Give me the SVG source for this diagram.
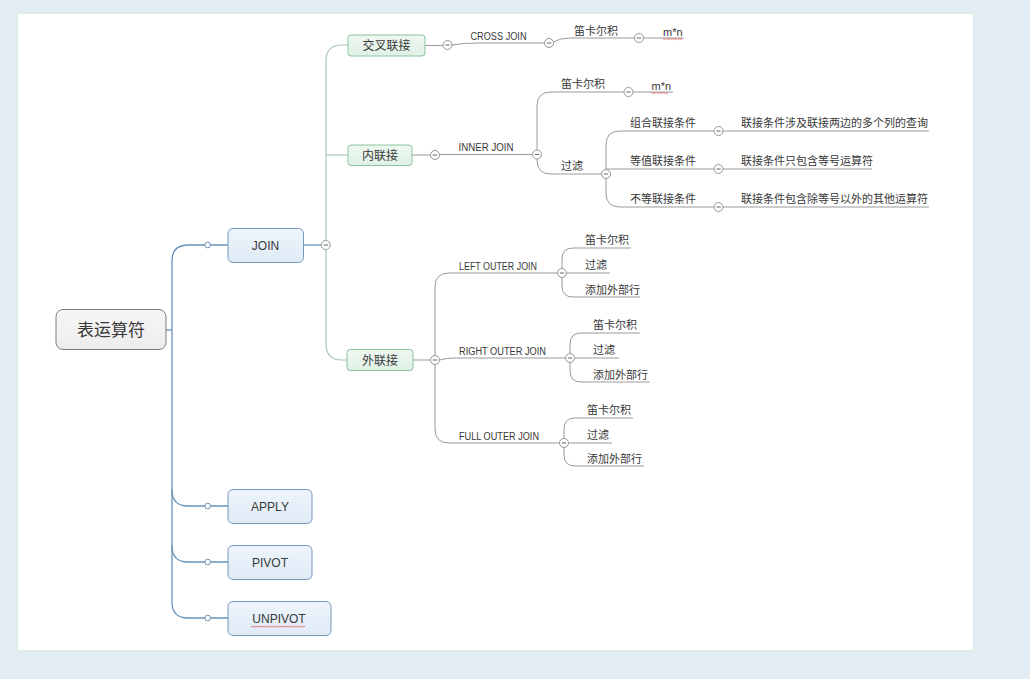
<svg xmlns="http://www.w3.org/2000/svg" width="1030" height="679" viewBox="0 0 1030 679">
<defs>
<linearGradient id="gRoot" x1="0" y1="0" x2="0" y2="1"><stop offset="0" stop-color="#f7f7f7"/><stop offset="1" stop-color="#ececec"/></linearGradient>
<linearGradient id="gBlue" x1="0" y1="0" x2="0" y2="1"><stop offset="0" stop-color="#edf4fb"/><stop offset="1" stop-color="#e0ebf6"/></linearGradient>
<linearGradient id="gGreen" x1="0" y1="0" x2="0" y2="1"><stop offset="0" stop-color="#eef8f1"/><stop offset="1" stop-color="#e0f1e6"/></linearGradient>
</defs>
<style>
text{font-family:"Liberation Sans","Noto Sans CJK SC",sans-serif;fill:#383838}
.t10{font-size:10px}
.t11{font-size:11px}
.t12{font-size:12px;text-anchor:middle}
.root{font-size:17px;text-anchor:middle}
.blue{fill:url(#gBlue);stroke:#7597bb;stroke-width:1}
.green{fill:url(#gGreen);stroke:#8cc2a0;stroke-width:1}
.trunk{fill:none;stroke:#6a93bb;stroke-width:1.3}
.gline{fill:none;stroke:#a9c9b3;stroke-width:1.2}
.line{fill:none;stroke:#9a9a9a;stroke-width:1}
.dot{fill:#fff;stroke:#6a93bb;stroke-width:1}
.col{fill:#fff;stroke:#8e9a93;stroke-width:1}
.minus{stroke:#666;stroke-width:1}
.wave{fill:none;stroke:#e05050;stroke-width:0.8}
</style>
<rect x="0" y="0" width="1030" height="679" fill="#e4ecf3"/>
<rect x="17.5" y="13.5" width="956" height="637" fill="#ffffff" stroke="#dce9e6" stroke-width="1"/>

<g id="connectors">
<path class="trunk" d="M166,330 H172"/>
<path class="trunk" d="M172,602 V261 Q172,245 188,245 H205"/>
<path class="trunk" d="M172,490 Q172,506 188,506 H205"/>
<path class="trunk" d="M172,546 Q172,562 188,562 H205"/>
<path class="trunk" d="M172,602 Q172,618 188,618 H205"/>
<path class="trunk" d="M210.5,245 H228 M210.5,506 H228 M210.5,562 H228 M210.5,618 H228"/>
<path class="trunk" d="M303,245 H321"/>
<path class="gline" d="M326,240.5 V61 Q326,45 342,45 H348"/>
<path class="gline" d="M326,155 H348"/>
<path class="gline" d="M326,249.5 V344 Q326,360 342,360 H347"/>
<path class="line" d="M425,45.5 H443"/>
<path class="line" d="M452,45 Q464,43 478,43 H544.5"/>
<path class="line" d="M553.5,42 Q560,38 570,38 H634.5"/>
<path class="line" d="M643.5,38 H684"/>
<path class="line" d="M412,155 H430.5"/>
<path class="line" d="M439.5,154.5 H532.5"/>
<path class="line" d="M537,150 V106 Q537,92 551,92 H624"/>
<path class="line" d="M537,159 V160 Q537,174 551,174 H601.5"/>
<path class="line" d="M633,92 H673"/>
<path class="line" d="M606,169.5 V145 Q606,131 620,131 H714"/>
<path class="line" d="M606,169 H714"/>
<path class="line" d="M606,178.5 V193 Q606,207 620,207 H714"/>
<path class="line" d="M723,131 H929 M723,169 H872 M723,207 H929"/>
<path class="line" d="M413,360 H430.5"/>
<path class="line" d="M435,355.5 V287 Q435,273 449,273 H557.5"/>
<path class="line" d="M439.5,360 Q446,358 456,358 H565.5"/>
<path class="line" d="M435,364.5 V429 Q435,443 449,443 H559.5"/>
<path class="line" d="M562,268.5 V259 Q562,248 573,248 H631"/>
<path class="line" d="M566.5,273 H610"/>
<path class="line" d="M562,277.5 V286 Q562,297 573,297 H640"/>
<path class="line" d="M570,353.5 V344 Q570,333 581,333 H640"/>
<path class="line" d="M574.5,358 H619"/>
<path class="line" d="M570,362.5 V371 Q570,382 581,382 H650"/>
<path class="line" d="M564,438.5 V429 Q564,418 575,418 H633"/>
<path class="line" d="M568.5,443 H612"/>
<path class="line" d="M564,447.5 V455 Q564,466 575,466 H644"/>
<circle class="dot" cx="207.7" cy="245" r="2.8"/>
<circle class="dot" cx="207.7" cy="506" r="2.8"/>
<circle class="dot" cx="207.7" cy="562" r="2.8"/>
<circle class="dot" cx="207.7" cy="618" r="2.8"/>
<g>
<circle class="col" cx="325.7" cy="245" r="4.5"/><path class="minus" d="M323.5,245 H328"/>
<circle class="col" cx="447.5" cy="45" r="4.5"/><path class="minus" d="M445.3,45 H449.7"/>
<circle class="col" cx="549" cy="43" r="4.5"/><path class="minus" d="M546.8,43 H551.2"/>
<circle class="col" cx="639" cy="38" r="4.5"/><path class="minus" d="M636.8,38 H641.2"/>
<circle class="col" cx="435" cy="155" r="4.5"/><path class="minus" d="M432.8,155 H437.2"/>
<circle class="col" cx="537" cy="154.5" r="4.5"/><path class="minus" d="M534.8,154.5 H539.2"/>
<circle class="col" cx="628.5" cy="92" r="4.5"/><path class="minus" d="M626.3,92 H630.7"/>
<circle class="col" cx="606" cy="174" r="4.5"/><path class="minus" d="M603.8,174 H608.2"/>
<circle class="col" cx="718.5" cy="131" r="4.5"/><path class="minus" d="M716.3,131 H720.7"/>
<circle class="col" cx="718.5" cy="169" r="4.5"/><path class="minus" d="M716.3,169 H720.7"/>
<circle class="col" cx="718.5" cy="207" r="4.5"/><path class="minus" d="M716.3,207 H720.7"/>
<circle class="col" cx="435" cy="360" r="4.5"/><path class="minus" d="M432.8,360 H437.2"/>
<circle class="col" cx="562" cy="273" r="4.5"/><path class="minus" d="M559.8,273 H564.2"/>
<circle class="col" cx="570" cy="358" r="4.5"/><path class="minus" d="M567.8,358 H572.2"/>
<circle class="col" cx="564" cy="443" r="4.5"/><path class="minus" d="M561.8,443 H566.2"/>
</g>
</g>

<g id="root">
<rect x="56" y="309.5" width="110" height="40" rx="7" fill="url(#gRoot)" stroke="#7c7c7c" stroke-width="1"/>
<text class="root" x="111" y="336">表运算符</text>
</g>
<g id="join">
<rect class="blue" x="228" y="228.5" width="75.5" height="34" rx="5"/>
<text class="t12" x="265.5" y="249.5">JOIN</text>
</g>
<g id="apply">
<rect class="blue" x="228" y="489.5" width="84" height="34" rx="5"/>
<text class="t12" x="270" y="510.5">APPLY</text>
</g>
<g id="pivot">
<rect class="blue" x="228" y="545.5" width="84" height="34" rx="5"/>
<text class="t12" x="270" y="566.5">PIVOT</text>
</g>
<g id="unpivot">
<rect class="blue" x="228" y="601.5" width="103" height="34" rx="5"/>
<text class="t12" x="279" y="622.5">UNPIVOT</text>
<path class="wave" d="M251,626 l1.5,1.2 l1.5,-1.2 l1.5,1.2 l1.5,-1.2 l1.5,1.2 l1.5,-1.2 l1.5,1.2 l1.5,-1.2 l1.5,1.2 l1.5,-1.2 l1.5,1.2 l1.5,-1.2 l1.5,1.2 l1.5,-1.2 l1.5,1.2 l1.5,-1.2 l1.5,1.2 l1.5,-1.2 l1.5,1.2 l1.5,-1.2 l1.5,1.2 l1.5,-1.2 l1.5,1.2 l1.5,-1.2 l1.5,1.2 l1.5,-1.2 l1.5,1.2 l1.5,-1.2 l1.5,1.2 l1.5,-1.2 l1.5,1.2 l1.5,-1.2 l1.5,1.2 l1.5,-1.2 l1.5,1.2 l1.5,-1.2"/>
</g>

<g id="cross">
<rect class="green" x="348" y="35" width="77" height="21" rx="3"/>
<text class="t12" x="386.5" y="50">交叉联接</text>
</g>
<g id="inner">
<rect class="green" x="348" y="145" width="64" height="20.5" rx="3"/>
<text class="t12" x="380" y="159.5">内联接</text>
</g>
<g id="outer">
<rect class="green" x="347" y="349.5" width="66" height="21" rx="3"/>
<text class="t12" x="380" y="364.5">外联接</text>
</g>

<g id="cross-join"><text class="t10" x="470.5" y="40" textLength="56" lengthAdjust="spacingAndGlyphs">CROSS JOIN</text></g>
<g id="cross-cart"><text class="t11" x="574" y="35">笛卡尔积</text></g>
<g id="cross-mn"><text class="t11" x="663" y="36">m*n</text>
<path class="wave" d="M663,38.5 l1.2,1 l1.2,-1 l1.2,1 l1.2,-1 l1.2,1 l1.2,-1 l1.2,1 l1.2,-1 l1.2,1 l1.2,-1 l1.2,1 l1.2,-1 l1.2,1 l1.2,-1 l1.2,1 l1.2,-1"/></g>

<g id="inner-join"><text class="t10" x="458.5" y="151" textLength="55" lengthAdjust="spacingAndGlyphs">INNER JOIN</text></g>
<g id="inner-cart"><text class="t11" x="561" y="88">笛卡尔积</text></g>
<g id="inner-mn"><text class="t11" x="651.5" y="89.5">m*n</text>
<path class="wave" d="M651.5,92.5 l1.2,1 l1.2,-1 l1.2,1 l1.2,-1 l1.2,1 l1.2,-1 l1.2,1 l1.2,-1 l1.2,1 l1.2,-1 l1.2,1 l1.2,-1 l1.2,1 l1.2,-1"/></g>
<g id="inner-filter"><text class="t11" x="561" y="170">过滤</text></g>
<g id="cond-combo"><text class="t11" x="630" y="127">组合联接条件</text></g>
<g id="cond-eq"><text class="t11" x="630" y="165">等值联接条件</text></g>
<g id="cond-neq"><text class="t11" x="630" y="203">不等联接条件</text></g>
<g id="desc-combo"><text class="t11" x="741" y="127">联接条件涉及联接两边的多个列的查询</text></g>
<g id="desc-eq"><text class="t11" x="741" y="165">联接条件只包含等号运算符</text></g>
<g id="desc-neq"><text class="t11" x="741" y="203">联接条件包含除等号以外的其他运算符</text></g>

<g id="left-join"><text class="t10" x="459" y="269.5" textLength="78" lengthAdjust="spacingAndGlyphs">LEFT OUTER JOIN</text></g>
<g id="left-cart"><text class="t11" x="585" y="244">笛卡尔积</text></g>
<g id="left-filter"><text class="t11" x="585" y="269">过滤</text></g>
<g id="left-add"><text class="t11" x="585" y="293.5">添加外部行</text></g>

<g id="right-join"><text class="t10" x="459" y="354.5" textLength="87" lengthAdjust="spacingAndGlyphs">RIGHT OUTER JOIN</text></g>
<g id="right-cart"><text class="t11" x="593" y="329">笛卡尔积</text></g>
<g id="right-filter"><text class="t11" x="593" y="354">过滤</text></g>
<g id="right-add"><text class="t11" x="593" y="378.5">添加外部行</text></g>

<g id="full-join"><text class="t10" x="459" y="439.5" textLength="80" lengthAdjust="spacingAndGlyphs">FULL OUTER JOIN</text></g>
<g id="full-cart"><text class="t11" x="587" y="414">笛卡尔积</text></g>
<g id="full-filter"><text class="t11" x="587" y="439">过滤</text></g>
<g id="full-add"><text class="t11" x="587" y="462.5">添加外部行</text></g>
</svg>
